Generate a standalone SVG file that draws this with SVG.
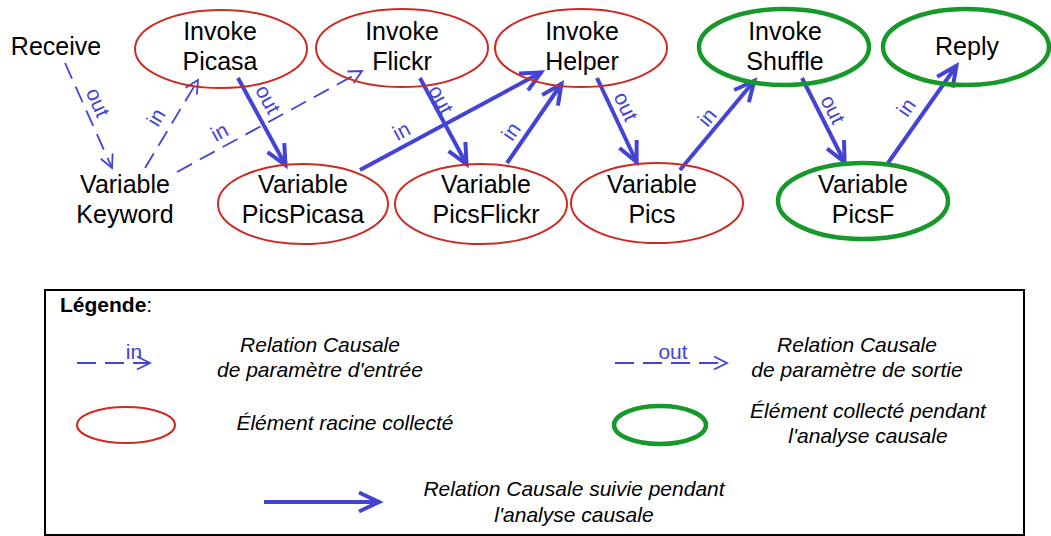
<svg xmlns="http://www.w3.org/2000/svg" width="1051" height="536" viewBox="0 0 1051 536">
<style>
text{font-family:"Liberation Sans",Arial,sans-serif;}
.n{font-size:25px;fill:#000;text-anchor:middle;}
.red{fill:none;stroke:#cc2a22;stroke-width:2;}
.green{fill:none;stroke:#16992a;stroke-width:4.5;}
.thin{fill:none;stroke:#4343d6;stroke-width:1.8;stroke-dasharray:17 9;marker-end:url(#ah);}
.thick{fill:none;stroke:#4343d6;stroke-width:4;marker-end:url(#ahb);}
.lbl{font-size:21px;fill:#4343d6;text-anchor:middle;}
.it{font-size:21px;font-style:italic;fill:#000;text-anchor:middle;}
</style>
<defs>
<marker id="ah" markerUnits="userSpaceOnUse" viewBox="0 0 16 16" markerWidth="16" markerHeight="16" refX="14" refY="8" orient="auto">
<path d="M1,1.5 L14,8 L1,14.5" fill="none" stroke="#4343d6" stroke-width="1.8"/>
</marker>
<marker id="ahb" markerUnits="userSpaceOnUse" viewBox="0 0 28 28" markerWidth="28" markerHeight="28" refX="24" refY="14" orient="auto">
<path d="M3,4.5 L23,14 L3,23.5" fill="none" stroke="#4343d6" stroke-width="4" stroke-linejoin="miter"/>
</marker>
</defs>

<g id="connectors">
<path class="thin" d="M65,63 L112,168"/>
<text class="lbl" transform="translate(97,103) rotate(66)" y="6">out</text>
<path class="thin" d="M145,168 L198,80"/>
<text class="lbl" transform="translate(157,118) rotate(-59)" y="6">in</text>
<path class="thin" d="M177,172 L362,71"/>
<text class="lbl" transform="translate(220,133) rotate(-28.6)" y="6">in</text>
<path class="thick" d="M238,78 L286,166"/>
<text class="lbl" transform="translate(267,100) rotate(61.4)" y="6">out</text>
<path class="thick" d="M360,170 L542,72"/>
<text class="lbl" transform="translate(402,132) rotate(-28)" y="6">in</text>
<path class="thick" d="M420,78 L467,165"/>
<text class="lbl" transform="translate(440,100) rotate(62)" y="6">out</text>
<path class="thick" d="M507,163 L562,83"/>
<text class="lbl" transform="translate(512,132) rotate(-55.5)" y="6">in</text>
<path class="thick" d="M597,78 L637,163"/>
<text class="lbl" transform="translate(625,107) rotate(64.8)" y="6">out</text>
<path class="thick" d="M680,170 L755,80"/>
<text class="lbl" transform="translate(708,118) rotate(-50.2)" y="6">in</text>
<path class="thick" d="M802,78 L845,163"/>
<text class="lbl" transform="translate(832,110) rotate(63.2)" y="6">out</text>
<path class="thick" d="M888,163 L957,65"/>
<text class="lbl" transform="translate(907,108) rotate(-54.8)" y="6">in</text>
</g>

<g id="receive"><text class="n" x="56" y="55">Receive</text></g>
<g id="keyword"><text class="n" x="125" y="193">Variable</text><text class="n" x="125" y="223">Keyword</text></g>
<g id="invokePicasa"><ellipse class="red" cx="221" cy="49" rx="86" ry="39"/><text class="n" x="220" y="40">Invoke</text><text class="n" x="220" y="70">Picasa</text></g>
<g id="invokeFlickr"><ellipse class="red" cx="402" cy="48" rx="86" ry="39"/><text class="n" x="402" y="40">Invoke</text><text class="n" x="402" y="70">Flickr</text></g>
<g id="invokeHelper"><ellipse class="red" cx="581" cy="48" rx="86" ry="39"/><text class="n" x="582" y="40">Invoke</text><text class="n" x="582" y="70">Helper</text></g>
<g id="invokeShuffle"><ellipse class="green" cx="784" cy="47" rx="85" ry="38"/><text class="n" x="785" y="40">Invoke</text><text class="n" x="785" y="70">Shuffle</text></g>
<g id="reply"><ellipse class="green" cx="966" cy="47" rx="83" ry="38"/><text class="n" x="967" y="55">Reply</text></g>
<g id="picsPicasa"><ellipse class="red" cx="303" cy="204" rx="85" ry="40"/><text class="n" x="303" y="193">Variable</text><text class="n" x="303" y="223">PicsPicasa</text></g>
<g id="picsFlickr"><ellipse class="red" cx="481" cy="204" rx="86" ry="40"/><text class="n" x="486" y="193">Variable</text><text class="n" x="486" y="223">PicsFlickr</text></g>
<g id="pics"><ellipse class="red" cx="657" cy="203" rx="86" ry="40"/><text class="n" x="652" y="193">Variable</text><text class="n" x="652" y="223">Pics</text></g>
<g id="picsF"><ellipse class="green" cx="863" cy="201" rx="85" ry="38"/><text class="n" x="863" y="193">Variable</text><text class="n" x="863" y="223">PicsF</text></g>

<g id="legend">
<rect x="45" y="290" width="979" height="245" fill="none" stroke="#000" stroke-width="2"/>
<text x="60" y="312" style="font-size:21px"><tspan font-weight="bold">Légende</tspan>:</text>
<path d="M77,363 L150,363" fill="none" stroke="#4343d6" stroke-width="1.8" stroke-dasharray="19 9" marker-end="url(#ah)"/>
<text class="lbl" x="134" y="359">in</text>
<text class="it" x="320" y="352">Relation Causale</text>
<text class="it" x="320" y="377">de paramètre d'entrée</text>
<ellipse class="red" cx="126" cy="425" rx="49" ry="18"/>
<text class="it" x="345" y="430">Élément racine collecté</text>
<path d="M615,363 L727,363" fill="none" stroke="#4343d6" stroke-width="1.8" stroke-dasharray="19 9" marker-end="url(#ah)"/>
<text class="lbl" x="673" y="359">out</text>
<text class="it" x="857" y="352">Relation Causale</text>
<text class="it" x="857" y="377">de paramètre de sortie</text>
<ellipse class="green" cx="660" cy="425" rx="46" ry="19"/>
<text class="it" x="868" y="418">Élément collecté pendant</text>
<text class="it" x="868" y="443">l'analyse causale</text>
<path d="M264,502 L380,502" fill="none" stroke="#4343d6" stroke-width="4" marker-end="url(#ahb)"/>
<text class="it" x="574" y="496">Relation Causale suivie pendant</text>
<text class="it" x="574" y="522">l'analyse causale</text>
</g>
</svg>
